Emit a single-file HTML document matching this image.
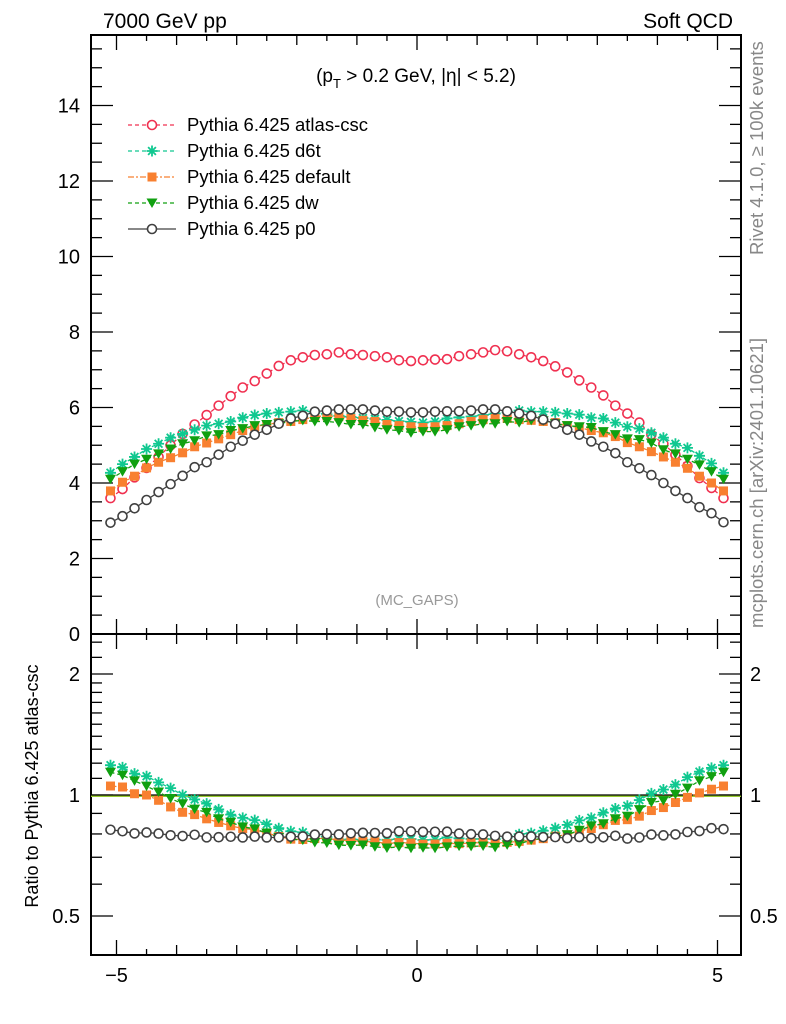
<!DOCTYPE html>
<html><head><meta charset="utf-8"><style>
body{margin:0;background:#fff;}
svg{display:block;font-family:"Liberation Sans",sans-serif;}
</style></head><body>
<svg id="c" width="786" height="1024" xmlns="http://www.w3.org/2000/svg">
<text x="103" y="28" font-size="21">7000 GeV pp</text>
<text x="733" y="28" font-size="21" text-anchor="end">Soft QCD</text>
<text x="416" y="82" font-size="19" text-anchor="middle">(p<tspan font-size="13" dy="6">T</tspan><tspan dy="-6"> &gt; 0.2 GeV, |η| &lt; 5.2)</tspan></text>
<text x="417" y="605" font-size="15" fill="#999" text-anchor="middle">(MC_GAPS)</text>
<text transform="translate(763,255) rotate(-90)" font-size="18.5" fill="#888">Rivet 4.1.0, ≥ 100k events</text>
<text transform="translate(763,628) rotate(-90)" font-size="18.5" fill="#888">mcplots.cern.ch [arXiv:2401.10621]</text>
<text transform="translate(38,786) rotate(-90)" font-size="18" text-anchor="middle">Ratio to Pythia 6.425 atlas-csc</text>
<g id="axes"></g>
<g id="marks"></g>
<g id="legend"></g>
</svg>
<script>
const etaStart=-5.1, etaStep=0.2;
const atlas=[3.6,3.84,4.15,4.4,4.69,5.0,5.3,5.55,5.8,6.05,6.3,6.53,6.7,6.9,7.1,7.25,7.33,7.39,7.41,7.46,7.41,7.39,7.36,7.33,7.25,7.23,
7.25,7.27,7.28,7.36,7.41,7.46,7.52,7.49,7.41,7.33,7.23,7.09,6.93,6.72,6.53,6.32,6.05,5.84,5.6,5.28,5.04,4.75,4.45,4.13,3.87,3.6];
const d6t=[4.27,4.5,4.69,4.9,5.04,5.2,5.3,5.41,5.52,5.57,5.63,5.73,5.8,5.84,5.87,5.89,5.92,5.86,5.82,5.78,5.75,5.72,5.7,5.67,5.64,5.62,
5.6,5.63,5.71,5.74,5.76,5.8,5.84,5.87,5.92,5.89,5.89,5.87,5.84,5.81,5.73,5.71,5.6,5.49,5.44,5.33,5.2,5.04,4.93,4.72,4.52,4.27];
const deflt=[3.79,4.02,4.18,4.4,4.55,4.67,4.8,4.96,5.06,5.17,5.28,5.39,5.49,5.55,5.6,5.63,5.68,5.76,5.78,5.76,5.71,5.66,5.63,5.55,5.52,5.49,
5.47,5.49,5.52,5.57,5.63,5.68,5.71,5.71,5.68,5.66,5.63,5.6,5.52,5.47,5.39,5.33,5.23,5.07,4.96,4.83,4.69,4.55,4.39,4.18,4.0,3.79];
const dw=[4.1,4.3,4.5,4.63,4.77,4.9,5.04,5.12,5.25,5.28,5.39,5.44,5.52,5.55,5.57,5.63,5.66,5.63,5.63,5.6,5.55,5.55,5.47,5.41,5.39,5.33,
5.36,5.36,5.41,5.49,5.52,5.57,5.57,5.63,5.6,5.66,5.65,5.57,5.52,5.49,5.47,5.36,5.28,5.17,5.15,5.06,4.88,4.77,4.63,4.48,4.3,4.1];
const p0=[2.95,3.12,3.33,3.55,3.76,3.97,4.19,4.42,4.55,4.75,4.96,5.12,5.28,5.41,5.57,5.71,5.78,5.89,5.92,5.95,5.95,5.95,5.92,5.89,5.89,5.87,
5.87,5.89,5.9,5.9,5.92,5.95,5.95,5.9,5.84,5.78,5.68,5.57,5.41,5.28,5.1,4.96,4.79,4.55,4.39,4.21,4.0,3.79,3.6,3.36,3.2,2.96];
const mainTicks=[0,2,4,6,8,10,12,14];
const ratioTicks=[0.5,1,2];
const xTicks=[-5,0,5];
const legendLabels=["Pythia 6.425 atlas-csc","Pythia 6.425 d6t","Pythia 6.425 default","Pythia 6.425 dw","Pythia 6.425 p0"];

const L=91,R=741,T=35,M=634,B=955;
const X=v=>417+v*60.1;
const Y=v=>M-v*37.75;
const YR=v=>795-Math.log2(v)*121;
const NS="http://www.w3.org/2000/svg";
function mk(tag,at,parent){const e=document.createElementNS(NS,tag);for(const k in at)e.setAttribute(k,at[k]);parent.appendChild(e);return e;}
const ax=document.getElementById('axes'),mg=document.getElementById('marks'),lg=document.getElementById('legend');

let f1=mk('rect',{x:L,y:T,width:R-L,height:M-T,fill:'none',stroke:'#000','stroke-width':2},ax);

let f2=mk('rect',{x:L,y:M,width:R-L,height:B-M,fill:'none',stroke:'#000','stroke-width':2},ax);

for(let v=-5;v<=5.01;v+=0.5){const len=Math.abs(v%5)<1e-6?15:(Math.abs(v%1)<1e-6?10:6);const x=X(v);
 for(const [y0,dir] of [[T,1],[M,-1],[M,1],[B,-1]]){mk('line',{x1:x,x2:x,y1:y0,y2:y0+dir*len,stroke:'#000','stroke-width':1.3},ax);}}
xTicks.forEach(v=>{const t=mk('text',{x:X(v),y:982,'font-size':20,'text-anchor':'middle'},ax);t.textContent=v<0?'−'+Math.abs(v):v;
 });
for(let v=0;v<=16;v+=0.5){const y=Y(v);if(y<T)break;const len=v%2===0?22:11;
 mk('line',{x1:L,x2:L+len,y1:y,y2:y,stroke:'#000','stroke-width':1.3},ax);mk('line',{x1:R,x2:R-len,y1:y,y2:y,stroke:'#000','stroke-width':1.3},ax);}
mainTicks.forEach(v=>{const t=mk('text',{x:80,y:Y(v)+7,'font-size':20,'text-anchor':'end'},ax);t.textContent=v;
 });
const minors=[0.4,0.6,0.7,0.8,0.9,1.1,1.2,1.3,1.4,1.5,1.6,1.7,1.8,1.9,2.2,2.4];
minors.forEach(v=>{const y=YR(v);if(y<M||y>B)return;mk('line',{x1:L,x2:L+11,y1:y,y2:y,stroke:'#000','stroke-width':1.3},ax);mk('line',{x1:R,x2:R-11,y1:y,y2:y,stroke:'#000','stroke-width':1.3},ax);});
ratioTicks.forEach(v=>{const y=YR(v);mk('line',{x1:L,x2:L+22,y1:y,y2:y,stroke:'#000','stroke-width':1.3},ax);mk('line',{x1:R,x2:R-22,y1:y,y2:y,stroke:'#000','stroke-width':1.3},ax);
 let t=mk('text',{x:80,y:y+7,'font-size':20,'text-anchor':'end'},ax);t.textContent=v;
 
 t=mk('text',{x:750,y:y+7,'font-size':20},ax);t.textContent=v;
 });
let rl=mk('line',{x1:L,x2:R,y1:YR(1)+1,y2:YR(1)+1,stroke:'#9c3','stroke-width':2},mg);
rl=mk('line',{x1:L,x2:R,y1:YR(1),y2:YR(1),stroke:'#000','stroke-width':1.3},mg);


function marker(g,kind,color,x,y){
 if(kind==='circle')mk('circle',{cx:x,cy:y,r:4.5,fill:'#fff',stroke:color,'stroke-width':1.6},g);
 else if(kind==='square')mk('rect',{x:x-4.5,y:y-4.5,width:9,height:9,fill:color},g);
 else if(kind==='tri')mk('path',{d:`M${x-5.5},${y-4.5}L${x+5.5},${y-4.5}L${x},${y+5}Z`,fill:color},g);
 else if(kind==='star'){let d='';for(let k=0;k<4;k++){const a=k*Math.PI/4;d+=`M${x-5.5*Math.cos(a)},${y-5.5*Math.sin(a)}L${x+5.5*Math.cos(a)},${y+5.5*Math.sin(a)}`;}mk('path',{d,stroke:color,'stroke-width':1.8},g);}
}
const series=[
 {name:'atlas-csc',data:atlas,color:'#f03050',kind:'circle',dash:'4,3'},
 {name:'d6t',data:d6t,color:'#10c890',kind:'star',dash:'4,3'},
 {name:'default',data:deflt,color:'#f88030',kind:'square',dash:'6,2,2,2'},
 {name:'dw',data:dw,color:'#10a010',kind:'tri',dash:'4,3'},
 {name:'p0',data:p0,color:'#404040',kind:'circle',dash:''}];
series.forEach(s=>{
 const g=mk('g',{},mg);
 
 
 const pts=s.data.map((v,i)=>[X(etaStart+i*etaStep),Y(v)]);
 const rpts=s.data.map((v,i)=>[X(etaStart+i*etaStep),YR(v/atlas[i])]);
 const la={fill:'none',stroke:s.color,'stroke-width':1.3};if(s.dash)la['stroke-dasharray']=s.dash;
 mk('polyline',Object.assign({points:pts.map(p=>p.join(',')).join(' ')},la),g);
 if(s.name!=='atlas-csc')mk('polyline',Object.assign({points:rpts.map(p=>p.join(',')).join(' ')},la),g);
 pts.forEach(p=>marker(g,s.kind,s.color,p[0],p[1]));
 if(s.name!=='atlas-csc')rpts.forEach(p=>marker(g,s.kind,s.color,p[0],p[1]));
});
series.forEach((s,i)=>{
 const y=125+i*26;const g=mk('g',{},lg);
 
 
 const la={x1:128,x2:176,y1:y,y2:y,stroke:s.color,'stroke-width':1.3};if(s.dash)la['stroke-dasharray']=s.dash;
 mk('line',la,g);marker(g,s.kind,s.color,152,y);
 const t=mk('text',{x:187,y:y+6,'font-size':18.5},g);t.textContent=legendLabels[i];
});
</script>
</body></html>
